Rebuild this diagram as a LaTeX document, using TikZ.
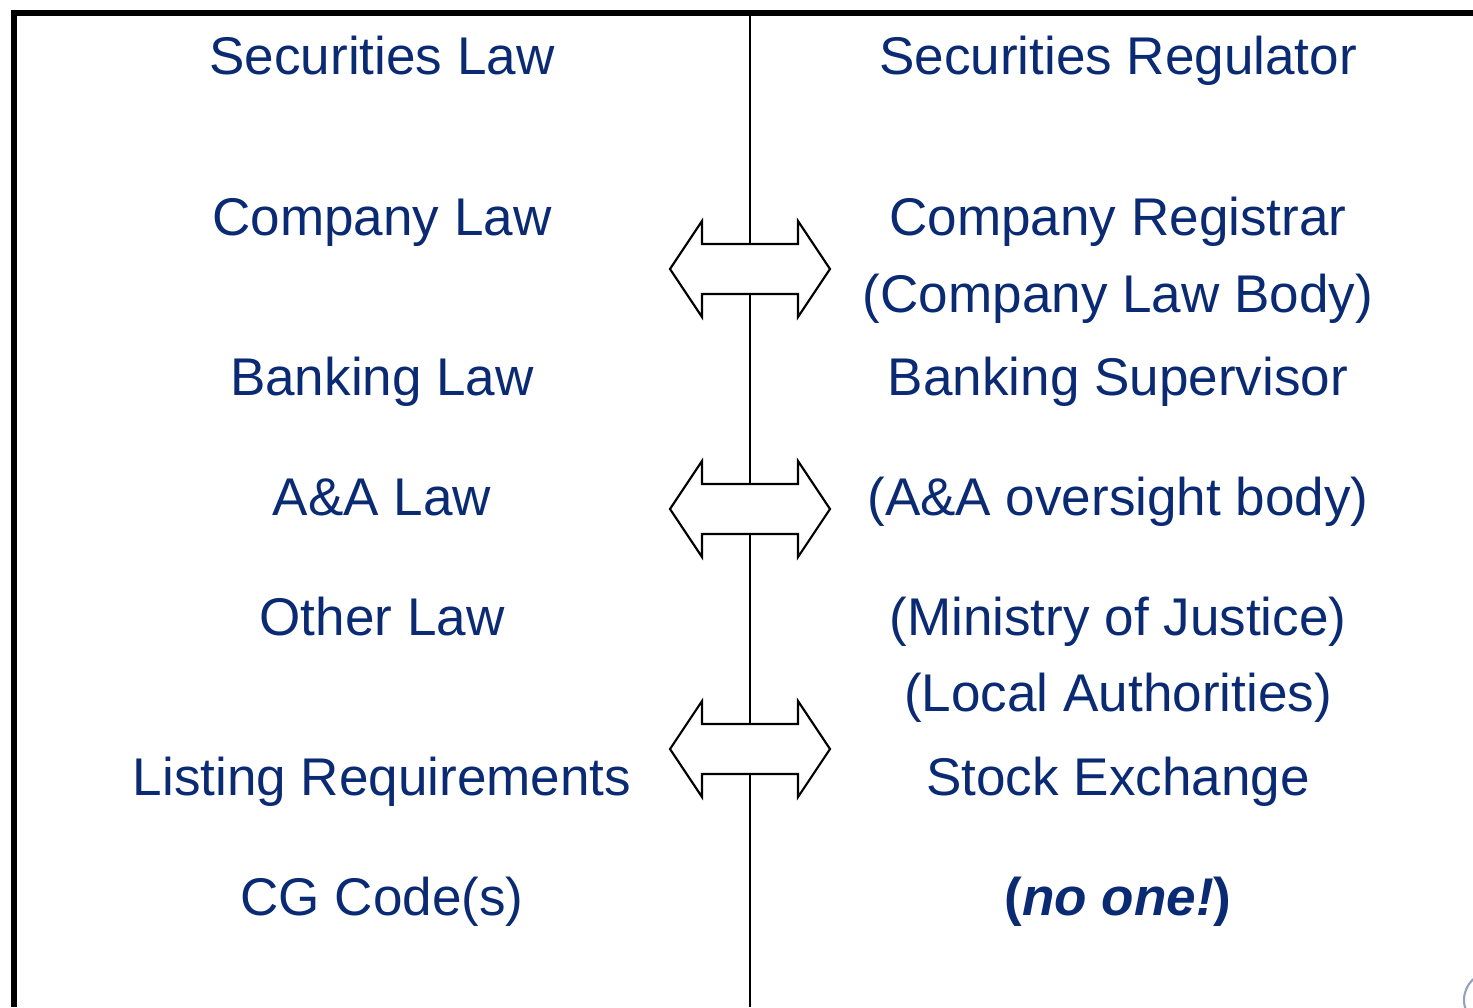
\documentclass[tikz,border=0pt]{standalone}
\usepackage{fontspec}
\setmainfont{Liberation Sans}
\usepackage{tikz}

\definecolor{navy}{RGB}{10,42,115}
\definecolor{logogray}{RGB}{150,160,190}

\tikzset{
	lbl/.style={font=\fontsize{30.2}{36}\selectfont, text=navy, anchor=base, inner sep=0pt},
	twoway/.style={draw=black, line width=1.2pt, fill=white}
}

\begin{document}
\begin{tikzpicture}[x=0.02cm, y=-0.02cm]
	\useasboundingbox (0,0) rectangle (1473,1007);

	% outer frame, top and left only
	\draw [line width=3.1pt] (1473,13) -- (14,13) -- (14,1007);

	% divider between the two columns
	\coordinate (divtop) at (750,13);
	\coordinate (divbot) at (750,1007);
	\draw [line width=1.4pt] (divtop) -- (divbot);

	% two-way arrows over the divider
	\foreach \yc in {269, 509, 749}
		\draw [twoway] (750,\yc) ++(-80,0) -- ++(32,-48) -- ++(0,23) -- ++(96,0)
			-- ++(0,-23) -- ++(32,48) -- ++(-32,48) -- ++(0,-23) -- ++(-96,0)
			-- ++(0,23) -- cycle;

	% left column
	\node [lbl] (seclaw) at (382,75) {Securities Law};
	\node [lbl] (comlaw) at (382,235) {Company Law};
	\node [lbl] (banklaw) at (382,395) {Banking Law};
	\node [lbl] (aalaw) at (382,515) {A\&A Law};
	\node [lbl] (othlaw) at (382,635) {Other Law};
	\node [lbl] (listreq) at (382,795) {Listing Requirements};
	\node [lbl] (cgcode) at (382,915) {CG Code(s)};

	% right column
	\node [lbl] (secreg) at (1118,75) {Securities Regulator};
	\node [lbl] (comreg) at (1118,235) {Company Registrar};
	\node [lbl] (combody) at (1118,312) {(Company Law Body)};
	\node [lbl] (banksup) at (1118,395) {Banking Supervisor};
	\node [lbl] (aabody) at (1118,515) {(A\&A oversight body)};
	\node [lbl] (justice) at (1118,635) {(Ministry of Justice)};
	\node [lbl] (local) at (1118,711) {(Local Authorities)};
	\node [lbl] (stockex) at (1118,795) {Stock Exchange};
	\node [lbl] (noone) at (1118,915) {\bfseries(\textit{no one!})};

	% corner of a logo, cut off by the page
	\begin{scope}
		\clip (0,0) rectangle (1473,1007);
		\draw [logogray, line width=1.2pt] (1492,1000) circle (28);
	\end{scope}
\end{tikzpicture}
\end{document}
